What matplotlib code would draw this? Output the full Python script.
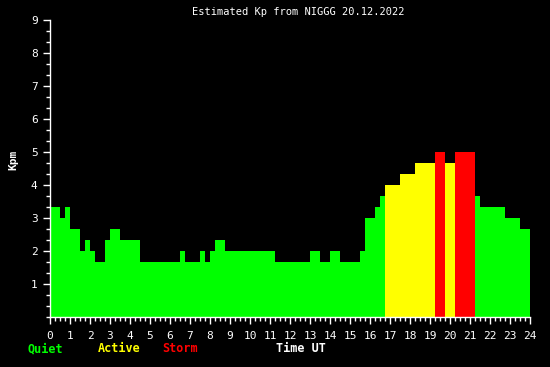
import matplotlib
matplotlib.use("Agg")
import matplotlib.pyplot as plt
import numpy as np

# Kp estimate per quarter hour (4 values per hour, 0..24 UT)
kp = [3.33, 3.33, 3.0, 3.33,
      2.67, 2.67, 2.0, 2.33,
      2.0, 1.67, 1.67, 2.33,
      2.67, 2.67, 2.33, 2.33,
      2.33, 2.33, 1.67, 1.67,
      1.67, 1.67, 1.67, 1.67,
      1.67, 1.67, 2.0, 1.67,
      1.67, 1.67, 2.0, 1.67,
      2.0, 2.33, 2.33, 2.0,
      2.0, 2.0, 2.0, 2.0,
      2.0, 2.0, 2.0, 2.0,
      2.0, 1.67, 1.67, 1.67,
      1.67, 1.67, 1.67, 1.67,
      2.0, 2.0, 1.67, 1.67,
      2.0, 2.0, 1.67, 1.67,
      1.67, 1.67, 2.0, 3.0,
      3.0, 3.33, 3.67, 4.0,
      4.0, 4.0, 4.33, 4.33,
      4.33, 4.67, 4.67, 4.67,
      4.67, 5.0, 5.0, 4.67,
      4.67, 5.0, 5.0, 5.0,
      5.0, 3.67, 3.33, 3.33,
      3.33, 3.33, 3.33, 3.0,
      3.0, 3.0, 2.67, 2.67]
step = 0.25
hours = list(range(0, 25))
kp_ticks = list(range(1, 10))

GREEN = "#00ff00"
YELLOW = "#ffff00"
RED = "#ff0000"

def kp_colour(v):
    if v >= 5:
        return RED
    if v >= 4:
        return YELLOW
    return GREEN

t = np.arange(len(kp)) * step
colours = [kp_colour(v) for v in kp]

fig = plt.figure(figsize=(5.5, 3.67), dpi=100, facecolor="black")
ax = fig.add_axes([50/550, 50/367, 480/550, 297/367], facecolor="black")

ax.bar(t, kp, width=step, align="edge", color=colours, linewidth=0)

ax.set_xlim(0, 24)
ax.set_ylim(0, 9)
for s in ["top", "right"]:
    ax.spines[s].set_visible(False)
for s in ["left", "bottom"]:
    ax.spines[s].set_color("white")
    ax.spines[s].set_linewidth(1)

mono = "DejaVu Sans Mono"
ax.set_xticks(hours)
ax.set_xticklabels([str(h) for h in hours], family=mono, fontsize=8, color="white")
ax.set_xticks(np.arange(0, 24.01, 0.25), minor=True)
ax.set_yticks(kp_ticks)
ax.set_yticklabels([str(k) for k in kp_ticks], family=mono, fontsize=8, color="white")
ax.set_yticks(np.arange(0, 9.01, 1/3), minor=True)
ax.tick_params(axis="x", which="major", length=5, width=1, color="white", pad=5)
ax.tick_params(axis="y", which="major", length=5, width=1, color="white", pad=4)
ax.tick_params(axis="both", which="minor", length=3, width=1, color="white")

fig.text(298/550, 1 - 12/367, "Estimated Kp from NIGGG 20.12.2022", ha="center", va="center",
         family=mono, fontsize=7.5, color="white")
fig.text(13/550, 1 - 160/367, "Kpm", ha="center", va="center", rotation=90,
         family=mono, fontsize=8, fontweight="bold", color="white")

for label, x, c in [("Quiet", 28, GREEN), ("Active", 98, YELLOW), ("Storm", 162, RED), ("Time UT", 276, "white")]:
    fig.text(x/550, 1 - 349/367, label, ha="left", va="center",
             family=mono, fontsize=8.5, fontweight="bold", color=c)

fig.savefig("out.png", dpi=100, facecolor="black")
